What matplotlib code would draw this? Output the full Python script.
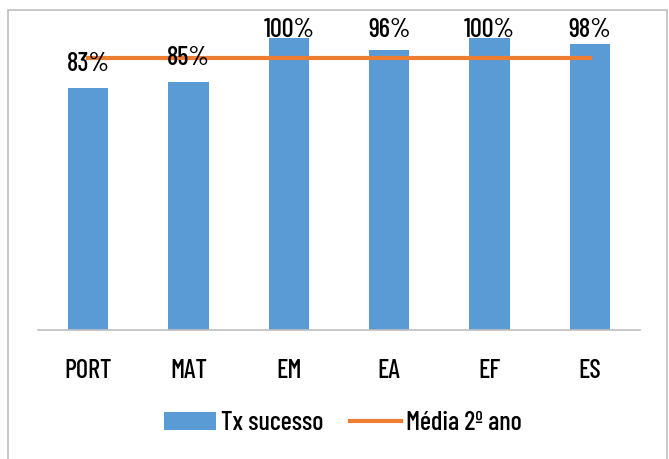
import matplotlib
matplotlib.use("Agg")
import matplotlib.pyplot as plt
from matplotlib.patches import Rectangle

# chart data
subjects = ["PORT", "MAT", "EM", "EA", "EF", "ES"]
success = [83, 85, 100, 96, 100, 98]
year_mean = 93

plt.rcParams["font.family"] = ["Barlow Condensed", "DejaVu Sans"]
plt.rcParams["font.weight"] = "medium"

fig = plt.figure(figsize=(6.69, 4.59), dpi=100)
ax = fig.add_axes([38 / 669, 1 - 330 / 459, 602 / 669, 306.6 / 459])

x = range(len(subjects))
bars = ax.bar(x, success, width=0.4, color="#5B9BD5", label="Tx sucesso", zorder=2)
line, = ax.plot([0, len(subjects) - 1], [year_mean, year_mean], color="#ED7D31", lw=3,
                label="Média 2º ano", zorder=3)

# value labels sit above each bar, pushed down near the top of the plot
for i, v in enumerate(success):
    ax.text(i, min(v + 8.2, 102.7), f"{v}%", ha="center", va="center",
            fontsize=19, zorder=4)

ax.set_xlim(-0.5, len(subjects) - 0.5)
ax.set_ylim(0, 105)
ax.set_yticks([])
ax.set_xticks(list(x))
ax.set_xticklabels(subjects, fontsize=19)
ax.tick_params(axis="x", length=0, pad=21)
for s in ["top", "right", "left"]:
    ax.spines[s].set_visible(False)
ax.spines["bottom"].set_color("#BFBFBF")
ax.spines["bottom"].set_linewidth(1.2)

fig.legend([bars, line], ["Tx sucesso", "Média 2º ano"], loc="center",
           bbox_to_anchor=(0.513, 1 - 423 / 459), ncol=2, frameon=False,
           fontsize=19, handlelength=1.95, columnspacing=1.0, handletextpad=0.2)

fig.patches.append(Rectangle((8 / 669, -0.05), 659 / 669, 1.05 - 10 / 459,
                             transform=fig.transFigure, fill=False,
                             edgecolor="#BFBFBF", lw=1.2))

fig.savefig("out.png", dpi=100)
